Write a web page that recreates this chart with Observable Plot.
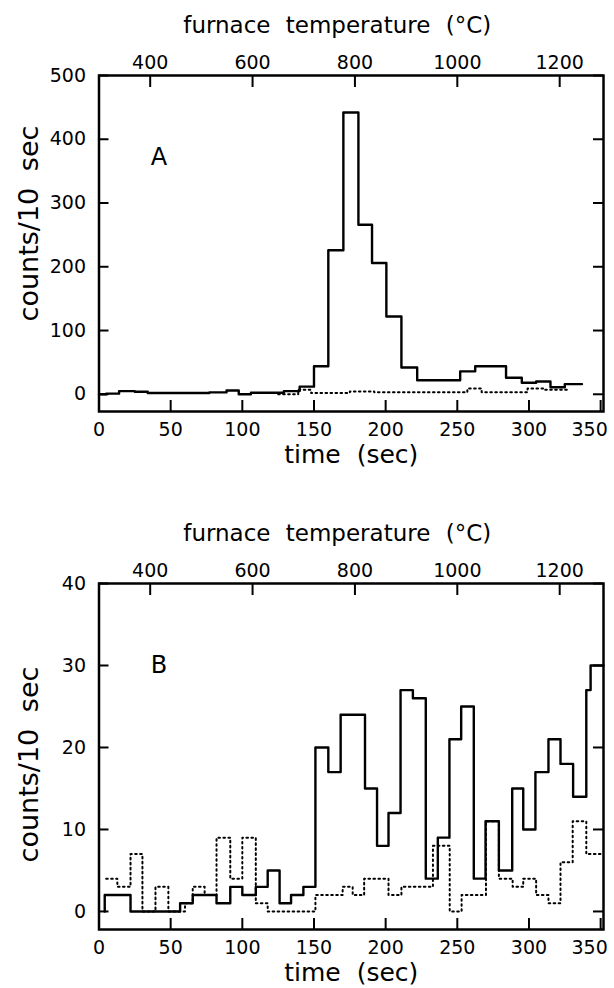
<!DOCTYPE html>
<html><head><meta charset="utf-8">
<script src="https://cdn.jsdelivr.net/npm/d3@7"></script>
<script src="https://cdn.jsdelivr.net/npm/@observablehq/plot@0.6"></script>
<style>
html,body{margin:0;padding:0;background:#fff;}
#chart{width:614px;}
#chart svg{display:block;}
#chart svg text{word-spacing:8px;}
</style></head><body><div id="chart"></div>
<script>
// furnace temperature = tempAtZero + tempRate * time
const tempAtZero = 300;
const tempRate = 2.8;
const tempTicks = [400, 600, 800, 1000, 1200];
const timeTicks = [0, 50, 100, 150, 200, 250, 300, 350];
const countTicksA = [0, 100, 200, 300, 400, 500];
const countTicksB = [0, 10, 20, 30, 40];

// Panel A, solid histogram (bin start time, counts)
const aSolidTime  = [0, 5, 14, 25, 34, 77, 89, 97.5, 106, 129, 140, 150, 160, 170.5, 181, 190.5, 200.5, 211, 222, 252, 262.5, 284, 295, 305, 315, 325, 337];
const aSolidCount = [0, 1, 5, 4, 2, 3, 6, 0, 2.5, 5, 12, 44, 226, 442, 266, 206, 122, 42, 22, 36, 44, 26, 18, 20, 11, 16, 16];
// Panel A, dotted histogram
const aDotTime  = [125, 139, 148, 175, 192, 257, 267, 299, 311, 327];
const aDotCount = [0, 7, 2, 4.5, 3, 9, 3, 9, 7, 7];

// Panel B, solid histogram
const bSolidTime  = [4, 4, 22, 56.6, 65.4, 82, 91.6, 100, 109.4, 117.7, 126, 134, 142.6, 151, 160, 168.6, 185.6, 194, 202, 210.4, 219, 228, 236.4, 244.5, 252.7, 261.5, 269.7, 279, 288.3, 296, 304.5, 313.6, 322, 330.8, 340, 343, 352];
const bSolidCount = [0, 2, 0, 1, 2, 1, 3, 2, 3, 5, 1, 2, 3, 20, 17, 24, 15, 8, 12, 27, 26, 4, 9, 21, 25, 4, 11, 5, 15, 10, 17, 21, 18, 14, 27, 30, 30];
// Panel B, dotted histogram
const bDotTime  = [5, 12.8, 22, 30.3, 39.4, 48.4, 60, 65.4, 73.7, 82, 91.6, 100, 109.4, 117.7, 151, 170, 177, 185, 202, 211, 233, 244.7, 253, 270, 279, 288.6, 296, 305, 313.6, 322, 330.5, 340, 352];
const bDotCount = [4, 3, 7, 0, 3, 0, 1, 3, 2, 9, 4, 9, 1, 0, 2, 3, 2, 4, 2, 3, 8, 0, 2, 11, 4, 3, 4, 2, 1, 6, 11, 7, 7];

const toTime = T => (T - tempAtZero) / tempRate;
const zip = (ts, cs) => ts.map((t, i) => ({t, c: cs[i]}));

const W = 614, ML = 98.5, MR = 11, MB = 59;

function panel({solid, dotted, yDomain, yTicks, letter, height, marginTop, ylabelDy}) {
  const ph = height - marginTop - MB;
  const pw = W - ML - MR;
  const lastTime = timeTicks[timeTicks.length - 1];
  return Plot.plot({
    width: W, height, marginTop, marginBottom: MB, marginLeft: ML, marginRight: MR,
    style: {fontFamily: "DejaVu Sans", fontSize: "19px", color: "black", background: "white", overflow: "visible"},
    x: {domain: [0, 352], label: null},
    y: {domain: yDomain, label: null},
    marks: [
      Plot.line(dotted, {x: "t", y: "c", curve: "step-after", stroke: "black", strokeWidth: 2, strokeDasharray: "1.6,3.4"}),
      Plot.line(solid, {x: "t", y: "c", curve: "step-after", stroke: "black", strokeWidth: 2.4}),
      // inward ticks
      Plot.tickX(timeTicks, {x: d => d, insetTop: ph - 11, stroke: "black", strokeWidth: 2}),
      Plot.tickX(tempTicks.map(toTime), {x: d => d, insetBottom: ph - 12, stroke: "black", strokeWidth: 2}),
      Plot.tickY(yTicks, {y: d => d, insetRight: pw - 10, stroke: "black", strokeWidth: 2}),
      Plot.tickY(yTicks, {y: d => d, insetLeft: pw - 10, stroke: "black", strokeWidth: 2}),
      // tick labels
      Plot.axisX(timeTicks.filter(t => t !== lastTime), {anchor: "bottom", tickSize: 0, tickPadding: 11, fontSize: 19, label: null}),
      Plot.axisX([lastTime], {anchor: "bottom", tickSize: 0, tickPadding: 11, fontSize: 19, label: null, dx: -11}),
      Plot.axisX(tempTicks.map(toTime), {anchor: "top", tickSize: 0, tickPadding: 7, fontSize: 19, label: null,
        tickFormat: t => String(Math.round(tempAtZero + tempRate * t))}),
      Plot.axisY(yTicks, {anchor: "left", tickSize: 0, tickPadding: 13, fontSize: 19, label: null}),
      Plot.frame({stroke: "black", strokeWidth: 2.5}),
      Plot.text(["furnace temperature (°C)"], {frameAnchor: "top", dx: -14, dy: -50, fontSize: 23, lineAnchor: "middle", textAnchor: "middle"}),
      Plot.text(["time (sec)"], {frameAnchor: "bottom", dy: 43, fontSize: 25, lineAnchor: "middle", textAnchor: "middle", letterSpacing: "1px"}),
      Plot.text(["counts/10 sec"], {frameAnchor: "left", dx: -70, dy: ylabelDy, rotate: -90, fontSize: 27, lineAnchor: "middle", textAnchor: "middle", letterSpacing: "3px"}),
      Plot.text([letter], {frameAnchor: "top-left", dx: 60, dy: 82, fontSize: 24, textAnchor: "middle", lineAnchor: "middle"})
    ]
  });
}

const chart = document.getElementById("chart");
chart.append(panel({
  solid: zip(aSolidTime, aSolidCount), dotted: zip(aDotTime, aDotCount),
  yDomain: [-27, 500], yTicks: countTicksA, letter: "A", height: 470, marginTop: 75, ylabelDy: -20
}));
chart.append(panel({
  solid: zip(bSolidTime, bSolidCount), dotted: zip(bDotTime, bDotCount),
  yDomain: [-2.2, 40], yTicks: countTicksB, letter: "B", height: 518, marginTop: 113, ylabelDy: 8
}));
</script>
</body></html>
